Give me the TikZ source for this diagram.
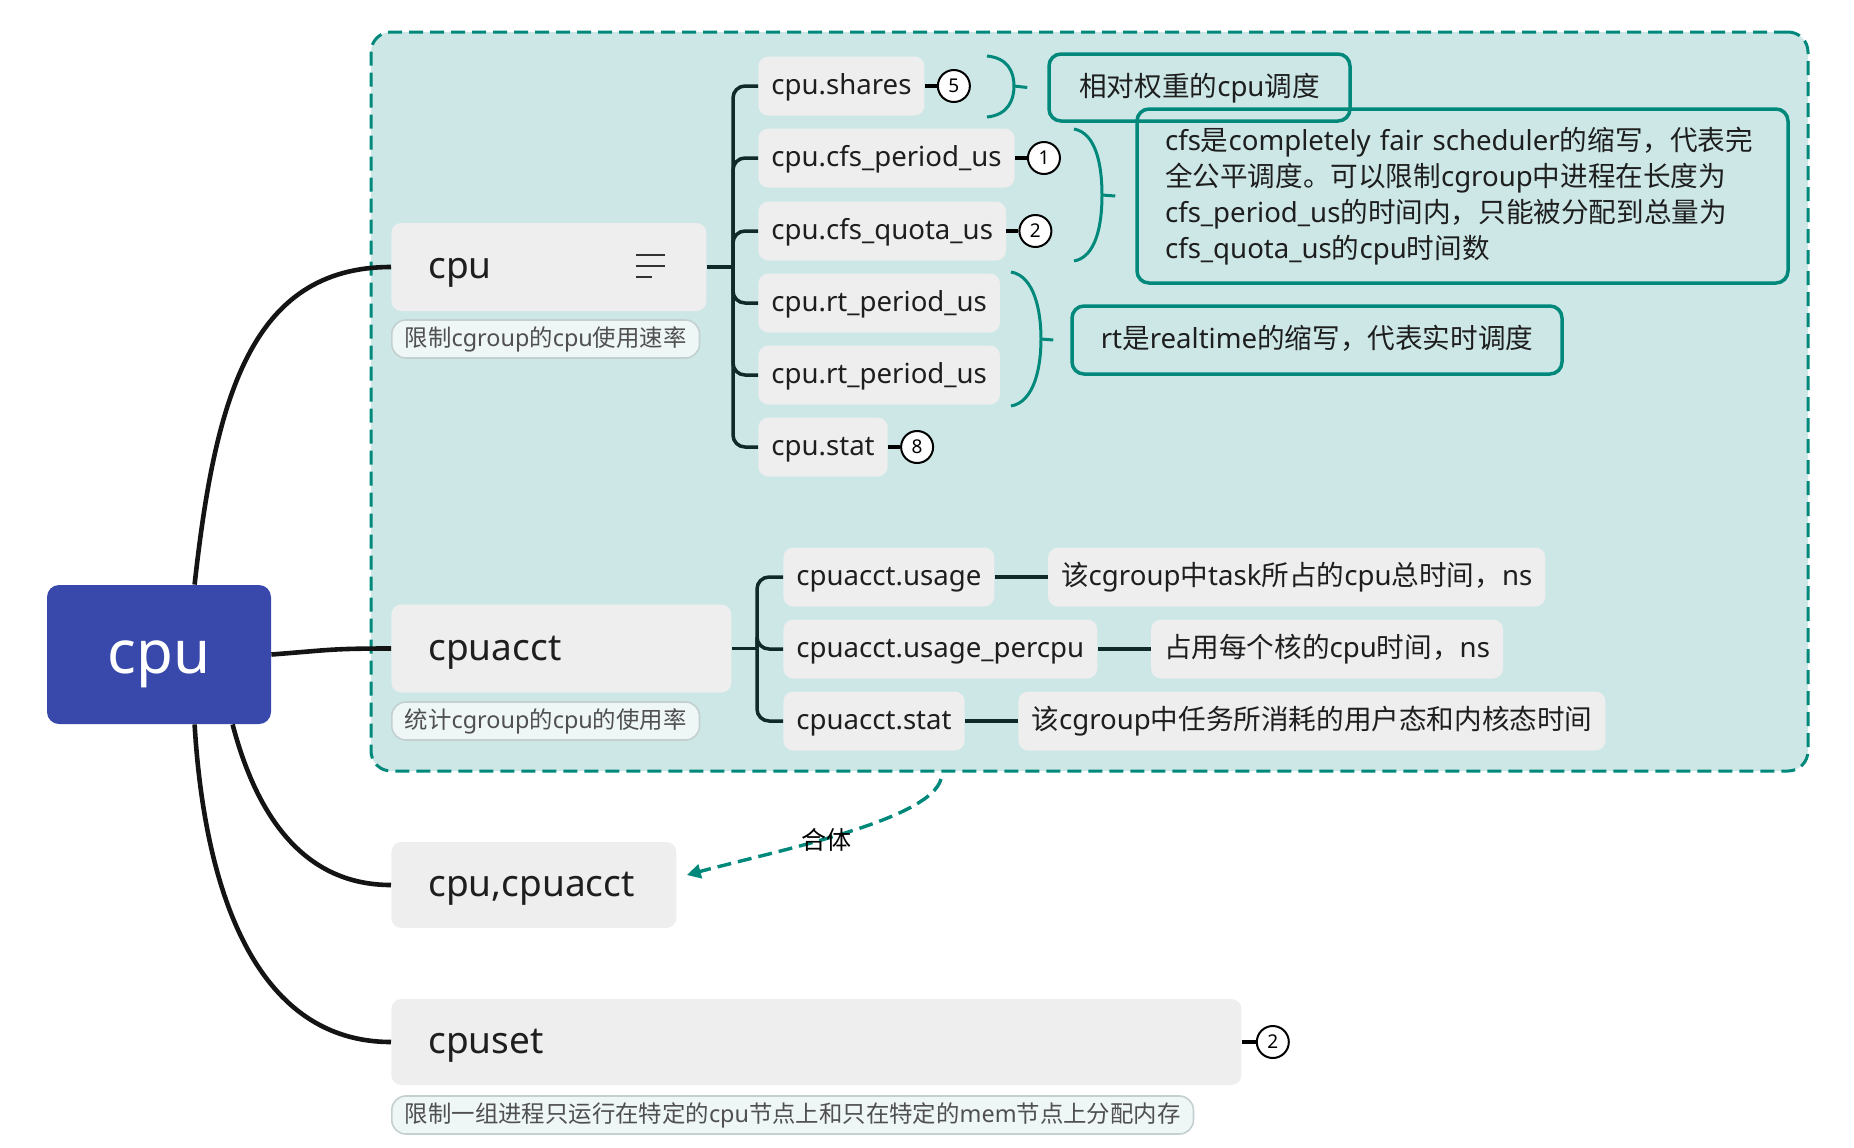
\documentclass[tikz,border=0pt]{standalone}
\usepackage{fontspec}
\setmainfont{Noto Sans}
\newfontfamily\cjk{Noto Sans CJK SC}
\newcommand\zh[1]{{\cjk #1}}
\usetikzlibrary{arrows.meta,positioning}
\definecolor{teal1}{RGB}{0,137,123}
\definecolor{contfill}{RGB}{205,231,231}
\definecolor{boxgray}{RGB}{238,238,238}
\definecolor{rootblue}{RGB}{57,73,171}
\definecolor{treecol}{RGB}{16,42,42}
\definecolor{lblfill}{RGB}{238,246,246}
\definecolor{lblborder}{RGB}{196,208,208}
\definecolor{txt}{RGB}{30,30,30}
\definecolor{lbltxt}{RGB}{80,80,80}
\begin{document}
\begin{tikzpicture}[x=0.5pt,y=-0.5pt,
  container/.style={draw=teal1, fill=contfill, line width=1.5pt, dash pattern=on 7pt off 3.5pt, rounded corners=10pt, minimum width=718.5pt, minimum height=369.5pt, inner sep=0pt},
  rootbox/.style={text height=24.3pt, text depth=5.7pt, fill=rootblue, rounded corners=6pt, minimum width=112pt, minimum height=69.5pt, text=white, font=\fontsize{30}{34}\selectfont, inner sep=0pt},
  mainbox/.style={text height=15pt, text depth=3.5pt, fill=boxgray, rounded corners=5pt, minimum height=44pt, inner xsep=18.5pt, inner ysep=0pt, text=txt, font=\fontsize{18.5}{22}\selectfont, align=left},
  lbl/.style={text height=9.5pt, text depth=2.2pt, fill=lblfill, draw=lblborder, line width=0.8pt, rounded corners=7pt, minimum height=19pt, inner xsep=6.5pt, inner ysep=0pt, text=lbltxt, font=\fontsize{11.7}{14}\selectfont},
  leaf/.style={text height=11.3pt, text depth=2.5pt, fill=boxgray, rounded corners=5pt, minimum height=29.5pt, inner xsep=6.5pt, inner ysep=0pt, text=txt, font=\fontsize{13.8}{17}\selectfont},
  summ/.style={draw=teal1, line width=1.75pt, rounded corners=6pt, inner xsep=6pt, inner ysep=0pt, text=txt, font=\fontsize{13.8}{18}\selectfont},
  summ1/.style={summ, text height=11.3pt, text depth=2.5pt},
  num/.style={circle, draw=black, fill=white, line width=1pt, minimum size=16pt, inner sep=0pt, font=\fontsize{9.5}{10}\selectfont},
  rootconn/.style={draw=black!92, line width=2.3pt},
  tree/.style={draw=treecol, line width=1.75pt, rounded corners=6pt},
  conn/.style={draw=treecol, line width=1.75pt},
  brace/.style={draw=teal1, line width=1.5pt},
  merge/.style={draw=teal1, line width=1.7pt, dash pattern=on 7pt off 3.5pt, -{Triangle[length=7pt,width=7pt]}}
]
\useasboundingbox (0,0) rectangle (1854,1147);

% container
\node[container] (cont) at (1089.5,401.5) {};

% root
\node[rootbox] (root) at (159,654.5) {cpu};

% main boxes
\node[mainbox, text width=120.5pt, anchor=west] (cpu) at (391,267) {cpu};
\node[mainbox, text width=133pt, anchor=west] (acct) at (391,648.5) {cpuacct};
\node[mainbox, text width=105.5pt, anchor=west, minimum height=43pt] (cpuacct2) at (391,885) {cpu,cpuacct};
\node[mainbox, text width=388pt, anchor=west, minimum height=43pt] (cpuset) at (391,1042) {cpuset};

% menu icon
\draw[line width=1.25pt, black!80] (636,255) -- (665,255) (636,266) -- (665,266) (636,277) -- (652,277);

% labels
\node[lbl, anchor=west] (l1) at (391,339) {\zh{限制}cgroup\zh{的}cpu\zh{使用速率}};
\node[lbl, anchor=west] (l2) at (391,721) {\zh{统计}cgroup\zh{的}cpu\zh{的使用率}};
\node[lbl, anchor=west] (l3) at (391,1115) {\zh{限制一组进程只运行在特定的}cpu\zh{节点上和只在特定的}mem\zh{节点上分配内存}};

% root connectors
\draw[rootconn] ([xshift=74pt]root.north west) .. controls (215,400) and (250,267) .. (cpu.west);
\draw[rootconn] (root.east) .. controls (330,650) and (330,648.5) .. (acct.west);
\draw[rootconn] ([xshift=93pt]root.south west) .. controls (255,810) and (300,885) .. (cpuacct2.west);
\draw[rootconn] ([xshift=74pt]root.south west) .. controls (205,900) and (260,1042) .. (cpuset.west);

% cpu leaves
\node[leaf, anchor=west] (shares) at (758,86) {cpu.shares};
\node[leaf, anchor=west] (cfsp) at (758,158) {cpu.cfs\_period\_us};
\node[leaf, anchor=west] (cfsq) at (758,231) {cpu.cfs\_quota\_us};
\node[leaf, anchor=west] (rta) at (758,303) {cpu.rt\_period\_us};
\node[leaf, anchor=west] (rtb) at (758,375) {cpu.rt\_period\_us};
\node[leaf, anchor=west] (stat) at (758,447) {cpu.stat};

\draw[conn] (cpu.east) -- (733,267) coordinate (cpuj);
\foreach \n in {shares,cfsp,cfsq,rta,rtb,stat} \draw[tree] (cpuj) |- (\n.west);

% numbers
\node[num, right=6pt of shares] (n5) {5};
\node[num, right=6pt of cfsp] (n1) {1};
\node[num, right=6pt of cfsq] (n2) {2};
\node[num, right=6pt of stat] (n8) {8};
\draw[conn, draw=black] (shares) -- (n5);
\draw[conn, draw=black] (cfsp) -- (n1);
\draw[conn, draw=black] (cfsq) -- (n2);
\draw[conn, draw=black] (stat) -- (n8);

% summaries
\node[summ1, minimum width=150.5pt, minimum height=33.5pt] (s1) at (1199.5,87.5) {\zh{相对权重的}cpu\zh{调度}};
\node[summ, text width=297.5pt, minimum height=87pt, inner xsep=14pt, align=left] (s2) at (1462.5,196) {cfs\zh{是}completely fair scheduler\zh{的缩写，代表完}\\\zh{全公平调度。可以限制}cgroup\zh{中进程在长度为}\\cfs\_period\_us\zh{的时间内，只能被分配到总量为}\\cfs\_quota\_us\zh{的}cpu\zh{时间数}};
\node[summ1, minimum width=245pt, minimum height=34pt] (s3) at (1317,340) {rt\zh{是}realtime\zh{的缩写，代表实时调度}};

% braces
\draw[brace] (987,56) .. controls (1008,58) and (1014,72) .. (1014,86) .. controls (1014,100) and (1008,115) .. (987,117);
\draw[brace] (1014,86) -- ([xshift=-10pt]s1.west);
\draw[brace] (1074,129) .. controls (1096,133) and (1102,165) .. (1102,195) .. controls (1102,225) and (1096,257) .. (1074,261);
\draw[brace] (1102,195) -- ([xshift=-10pt]s2.west);
\draw[brace] (1011,272) .. controls (1034,276) and (1041,310) .. (1041,339) .. controls (1041,368) and (1034,402) .. (1011,406);
\draw[brace] (1041,339) -- ([xshift=-8.5pt]s3.west);

% cpuacct leaves
\node[leaf, anchor=west] (usage) at (783,577) {cpuacct.usage};
\node[leaf, anchor=west] (percpu) at (783,649) {cpuacct.usage\_percpu};
\node[leaf, anchor=west] (astat) at (783,721) {cpuacct.stat};
\draw[conn] (acct.east) -- (757,648.5) coordinate (acctj);
\foreach \n in {usage,percpu,astat} \draw[tree] (acctj) |- (\n.west);

\node[leaf, right=26.5pt of usage] (d1) {\zh{该}cgroup\zh{中}task\zh{所占的}cpu\zh{总时间，}ns};
\node[leaf, right=26.5pt of percpu] (d2) {\zh{占用每个核的}cpu\zh{时间，}ns};
\node[leaf, right=26.5pt of astat] (d3) {\zh{该}cgroup\zh{中任务所消耗的用户态和内核态时间}};
\draw[conn] (usage) -- (d1);
\draw[conn] (percpu) -- (d2);
\draw[conn] (astat) -- (d3);

% cpuset number
\node[num, right=7pt of cpuset] (n2b) {2};
\draw[conn, draw=black] (cpuset) -- (n2b);

% merge arrow
\coordinate (mstart) at (941,779);
\draw[merge] (mstart) .. controls (930,820) and (780,850) .. ([xshift=5pt,yshift=5pt]cpuacct2.east);
\node[font=\cjk\fontsize{12.5}{14}\selectfont, text=black] (mlabel) at (826,840) {合体};

\end{tikzpicture}
\end{document}
